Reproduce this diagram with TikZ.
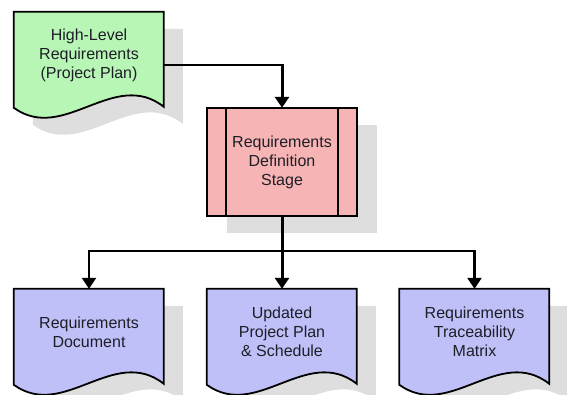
\documentclass[tikz,border=0pt]{standalone}
\usepackage{fontspec}
\setmainfont{Liberation Sans}
\usetikzlibrary{arrows.meta,backgrounds}
\definecolor{docgreen}{RGB}{184,246,182}
\definecolor{stagepink}{RGB}{246,180,180}
\definecolor{docblue}{RGB}{192,192,248}
\definecolor{shadowgray}{RGB}{222,222,222}
\definecolor{txt}{RGB}{30,30,40}
\newcommand\docshape[2]{%
  \path[#2,shift={(#1.north west)}] (0,0) -- (150,0) -- (150,95)
    .. controls (100,56) and (50,132) .. (0,96) -- cycle;}
\newcommand\docshadow[1]{%
  \path[shade,shift={(#1.north west)},shift={(19,17)}] (0,0) -- (150,0) -- (150,95)
    .. controls (100,56) and (50,132) .. (0,96) -- cycle;}
\begin{document}
\begin{tikzpicture}[x=1pt,y=-1pt,
  box/.style={minimum width=150pt,minimum height=86pt,inner sep=0pt,align=center,
    text=txt,font=\fontsize{16}{19}\selectfont},
  outline/.style={draw=black,line width=1.8pt,line join=miter},
  shade/.style={fill=shadowgray,draw=none},
  link/.style={draw=black,line width=3pt},
  thinlink/.style={draw=black,line width=1.8pt},
  tip/.style={-{Triangle[width=14pt,length=11pt]}}]
\useasboundingbox (0,0) rectangle (567,394);
% nodes (text)
\node[box] (hl) at (89,55) {High-Level\\Requirements\\(Project Plan)};
\node[box,minimum height=108pt] (stage) at (282,162) {Requirements\\Definition\\Stage};
\node[box] (d1) at (89,332) {Requirements\\Document};
\node[box] (d2) at (282,332) {Updated\\Project Plan\\\& Schedule};
\node[box] (d3) at (474.5,332) {Requirements\\Traceability\\Matrix};
% shapes behind the text
\begin{scope}[on background layer]
  \fill[white] (0,0) rectangle (567,394);
  \docshadow{hl}
  \fill[shadowgray] ([shift={(20,17)}]stage.north west) rectangle ([shift={(20,17)}]stage.south east);
  \docshadow{d1}
  \docshadow{d2}
  \docshadow{d3}
  \docshape{hl}{outline,fill=docgreen}
  \path[outline,fill=stagepink] (stage.north west) rectangle (stage.south east);
  \draw[outline] ([xshift=19pt]stage.north west) -- ([xshift=19pt]stage.south west);
  \draw[outline] ([xshift=-19pt]stage.north east) -- ([xshift=-19pt]stage.south east);
  \docshape{d1}{outline,fill=docblue}
  \docshape{d2}{outline,fill=docblue}
  \docshape{d3}{outline,fill=docblue}
\end{scope}
% connectors
\coordinate (bend) at (282,65);
\coordinate (split) at (282,251);
\draw[thinlink] ([yshift=-10pt]hl.east) -- (bend);
\draw[link,line cap=rect,tip] (bend) -- (stage.north);
\draw[link] (stage.south) -- (split);
\draw[thinlink,line width=2.4pt,tip] (split) -| (d1.north);
\draw[link,tip] (split) -- (d2.north);
\draw[thinlink,line width=2.4pt,tip] (split) -| (d3.north);
\end{tikzpicture}
\end{document}
